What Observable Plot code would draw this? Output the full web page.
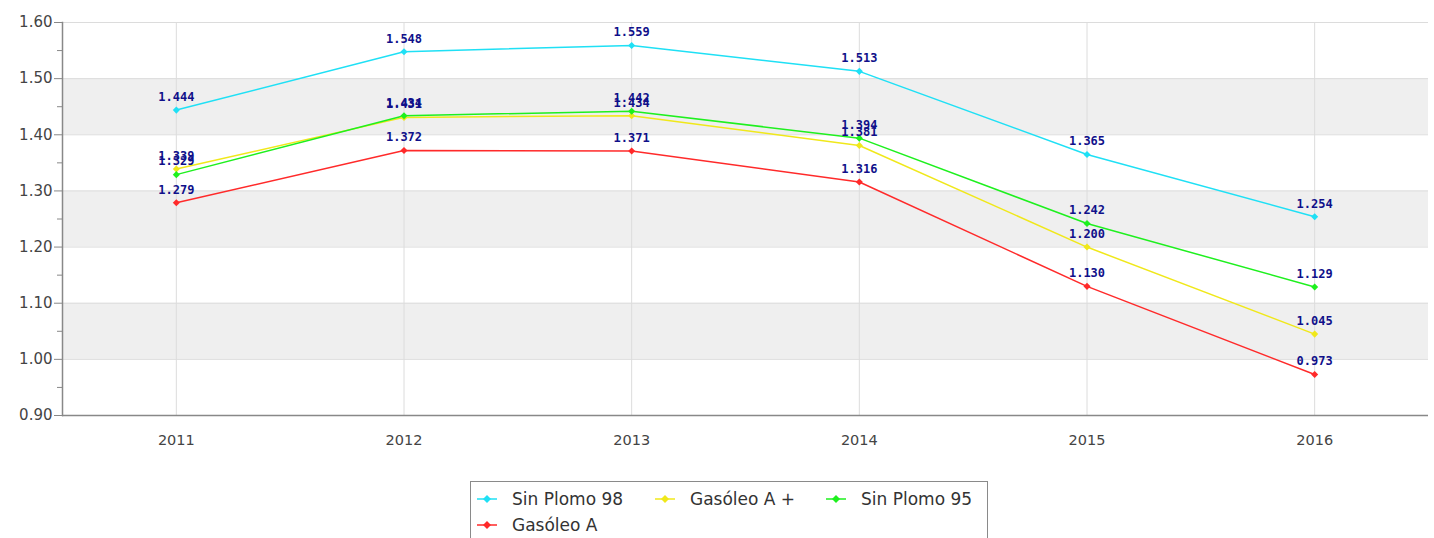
<!DOCTYPE html>
<html>
<head>
<meta charset="utf-8">
<script src="https://cdn.jsdelivr.net/npm/d3@7"></script>
<script src="https://cdn.jsdelivr.net/npm/@observablehq/plot@0.6"></script>
<style>
  body { margin: 0; background: #fff; font-family: "DejaVu Sans", sans-serif; }
  #chart { width: 1434px; }
  #chart > svg { display: block; }
  #legend { margin-left: 470px; margin-top: 16px; width: 518px; height: 70px; border: 1px solid #8a8a8a; box-sizing: border-box; padding: 4px 0 0 5px; }
  .item { display: inline-flex; align-items: center; font-size: 17px; color: #333; height: 26px; vertical-align: top; }
  .item svg { margin-right: 14px; }
</style>
</head>
<body>
<div id="chart"></div>
<div id="legend"></div>
<script>
const years = ["2011", "2012", "2013", "2014", "2015", "2016"];
const seriesNames = ["Sin Plomo 98", "Gasóleo A +", "Sin Plomo 95", "Gasóleo A"];
const seriesColors = ["#1fe0f5", "#f0e81a", "#1ef01e", "#ff2a2a"];
const sinPlomo98 = [1.444, 1.548, 1.559, 1.513, 1.365, 1.254];
const gasoleoAPlus = [1.339, 1.431, 1.434, 1.381, 1.200, 1.045];
const sinPlomo95 = [1.329, 1.434, 1.442, 1.394, 1.242, 1.129];
const gasoleoA = [1.279, 1.372, 1.371, 1.316, 1.130, 0.973];
const yTicks = [0.90, 1.00, 1.10, 1.20, 1.30, 1.40, 1.50, 1.60];
const yMinorTicks = [0.95, 1.05, 1.15, 1.25, 1.35, 1.45, 1.55];
const bands = [[1.00, 1.10], [1.20, 1.30], [1.40, 1.50]];

const valuesList = [sinPlomo98, gasoleoAPlus, sinPlomo95, gasoleoA];
const rows = [];
seriesNames.forEach((s, i) => years.forEach((y, j) => rows.push({series: s, year: y, value: valuesList[i][j]})));

const plot = Plot.plot({
  width: 1434,
  height: 465,
  marginTop: 22,
  marginLeft: 62,
  marginRight: 6,
  marginBottom: 50,
  style: {fontFamily: "DejaVu Sans, sans-serif", color: "#444", background: "#fff"},
  x: {type: "point", domain: years, padding: 0.5, round: false, label: null},
  y: {domain: [0.9, 1.6], label: null},
  color: {domain: seriesNames, range: seriesColors},
  marks: [
    Plot.rect(bands, {y1: d => d[0], y2: d => d[1], fill: "#efefef"}),
    Plot.gridY(yTicks, {stroke: "#dcdcdc", strokeOpacity: 1}),
    Plot.gridX(years, {stroke: "#dcdcdc", strokeOpacity: 1}),
    Plot.axisY(yMinorTicks, {tickSize: 5, text: null, stroke: "#888", label: null}),
    Plot.axisY(yTicks, {tickSize: 8, tickPadding: 2, tickFormat: d3.format(".2f"), fontSize: 15, stroke: "#888", fill: "#444", label: null}),
    Plot.axisX(years, {tickSize: 0, tickPadding: 19, fontSize: 14.5, fill: "#444", label: null}),
    Plot.frame({anchor: "left", stroke: "#888", strokeWidth: 1.5}),
    Plot.ruleY([0.9], {stroke: "#888", strokeWidth: 1.5}),
    Plot.line(rows, {x: "year", y: "value", z: "series", stroke: "series", strokeWidth: 1.5}),
    Plot.dot(rows, {x: "year", y: "value", fill: "series", symbol: "diamond2", r: 3.2}),
    Plot.text(rows, {x: "year", y: "value", text: d => d3.format(".3f")(d.value), dy: -13, fill: "#10108a", fontSize: 12, fontFamily: "DejaVu Sans Mono, monospace", fontWeight: "bold"})
  ]
});
document.getElementById("chart").appendChild(plot);

const itemWidths = ["178px", "171px", "auto", "auto"];
const legendDiv = document.getElementById("legend");
seriesNames.forEach((s, i) => {
  const item = document.createElement("span");
  item.className = "item";
  item.style.width = itemWidths[i];
  item.innerHTML = `<svg width="22" height="10"><line x1="1" x2="21" y1="5" y2="5" stroke="${seriesColors[i]}" stroke-width="1.5"/><path d="M11,1 L15,5 L11,9 L7,5 Z" fill="${seriesColors[i]}"/></svg>${s}`;
  legendDiv.appendChild(item);
  if (i === 2) legendDiv.appendChild(document.createElement("br"));
});
</script>
</body>
</html>
